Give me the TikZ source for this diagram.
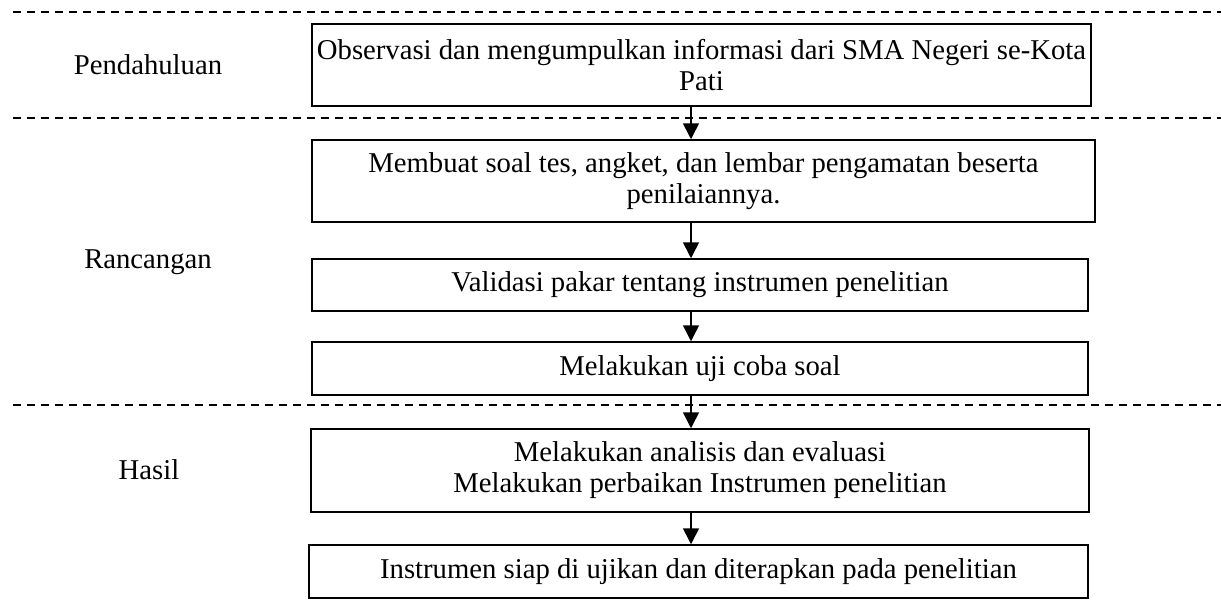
\documentclass[tikz,border=0pt]{standalone}
\usepackage{fontspec}
\setmainfont{Liberation Serif}
\usetikzlibrary{arrows.meta}
\begin{document}
\begin{tikzpicture}[x=1pt,y=-1pt,
  box/.style={draw,line width=1.5pt,align=center,inner sep=0pt,font=\fontsize{28.7}{31}\selectfont},
  lbl/.style={font=\fontsize{28.7}{31}\selectfont},
  sep/.style={line width=1.3pt,dash pattern=on 8pt off 6pt},
  arr/.style={line width=1.6pt,-{Triangle[length=16pt,width=16pt]}}]
\useasboundingbox (0,0) rectangle (1221,603);
\coordinate (ax) at (691,0);
\coordinate (l1a) at (13,12);   \coordinate (l1b) at (1221,12);
\coordinate (l2a) at (13,118);  \coordinate (l2b) at (1221,118);
\coordinate (l3a) at (13,405);  \coordinate (l3b) at (1221,405);
\draw[sep] (l1a) -- (l1b);
\draw[sep] (l2a) -- (l2b);
\draw[sep] (l3a) -- (l3b);
\node[lbl] (pend) at (148,65) {Pendahuluan};
\node[lbl] (ranc) at (148,262) {Rancangan};
\node[lbl] (has) at (149,470) {Hasil};
\node[box,minimum width=779pt,minimum height=82pt] (b1) at (701.5,65) {Observasi dan mengumpulkan informasi dari SMA Negeri se-Kota\\Pati};
\node[box,minimum width=783pt,minimum height=82pt] (b2) at (703.5,181) {Membuat soal tes, angket, dan lembar pengamatan beserta\\penilaiannya.};
\node[box,minimum width=776pt,minimum height=52pt] (b3) at (700,285) {Validasi pakar tentang instrumen penelitian};
\node[box,minimum width=776pt,minimum height=53pt] (b4) at (700,368.5) {Melakukan uji coba soal};
\node[box,minimum width=778pt,minimum height=83pt] (b5) at (700,470.5) {Melakukan analisis dan evaluasi\\Melakukan perbaikan Instrumen penelitian};
\node[box,minimum width=779pt,minimum height=53pt] (b6) at (698.5,571.5) {Instrumen siap di ujikan dan diterapkan pada penelitian};
\draw[arr] (b1.south -| ax) -- (b2.north -| ax);
\draw[arr] (b2.south -| ax) -- (b3.north -| ax);
\draw[arr] (b3.south -| ax) -- (b4.north -| ax);
\draw[arr] (b4.south -| ax) -- (b5.north -| ax);
\draw[arr] (b5.south -| ax) -- (b6.north -| ax);
\end{tikzpicture}
\end{document}
